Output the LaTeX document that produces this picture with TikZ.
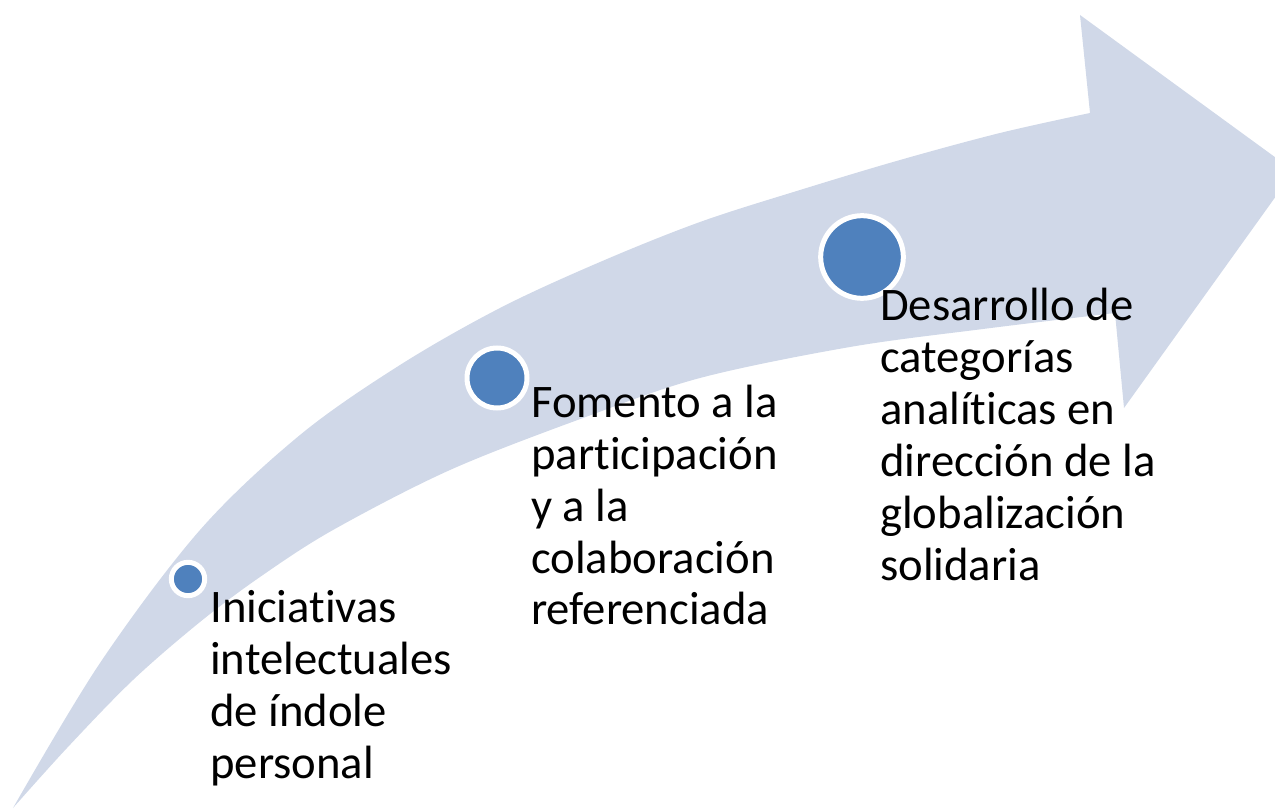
\documentclass[tikz,border=0pt]{standalone}
\usepackage{fontspec}
\setmainfont{Carlito}[Ligatures=NoCommon]
\definecolor{arrowfill}{HTML}{D0D8E8}
\definecolor{dotblue}{HTML}{4F81BD}
\newcommand\stacklines[1]{\begin{tabular}[t]{@{}l@{}}#1\end{tabular}}
\begin{document}
\begin{tikzpicture}[x=0.75pt,y=-0.75pt,
  dot/.style={circle,fill=dotblue,draw=white,line width=3.75pt,inner sep=0pt},
  label/.style={anchor=base west,inner sep=0pt,font=\fontsize{35pt}{39pt}\selectfont,text=black}]
\useasboundingbox (0,0) rectangle (1275,809);
\begin{scope}
\clip (0,0) rectangle (1275,809);
\fill[arrowfill] plot[smooth,tension=0.55] coordinates {(13,808) (100,663) (200,530) (300,435) (400,365) (500,308) (600,262) (700,222) (800,190) (900,160) (1000,133) (1090,113)}
  -- (1080,15) -- (1294,171) -- (1124,408) -- (1115,313)
  -- plot[smooth,tension=0.55] coordinates {(1115,313) (983,329) (850,347) (700,378) (583,418) (450,470) (333,530) (260,577) (200,622) (133,680) (67,748) (13,808)} -- cycle;
\end{scope}
\node[dot,minimum size=25pt] (c1) at (188,579) {};
\node[dot,minimum size=45pt] (c2) at (497,378) {};
\node[dot,minimum size=62pt] (c3) at (862,257) {};
\node[label] (t1) at (210,622) {\stacklines{Iniciativas\\intelectuales\\de índole\\personal}};
\node[label] (t2) at (531,417) {\stacklines{Fomento a la\\participación\\y a la\\colaboración\\referenciada}};
\node[label] (t3) at (880,321) {\stacklines{Desarrollo de\\categorías\\analíticas en\\dirección de la\\globalización\\solidaria}};
\end{tikzpicture}
\end{document}
